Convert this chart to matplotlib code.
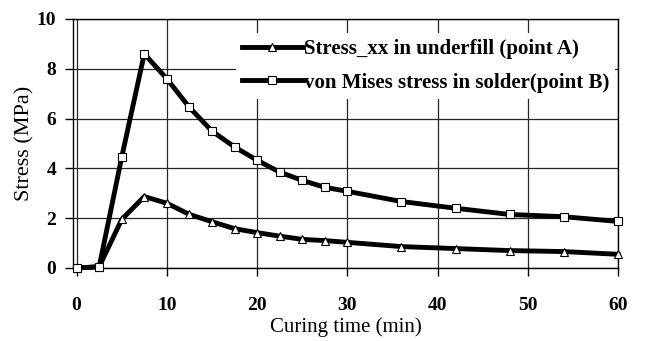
import numpy as np
import matplotlib
matplotlib.use("Agg")
import matplotlib.pyplot as plt

# curing time (min) and stresses (MPa)
time_a = [0, 2.5, 5, 7.5, 10, 12.5, 15, 17.5, 20, 22.5, 25, 27.5, 30, 36, 42, 48, 54, 60]
stress_a = [0.0, 0.05, 1.95, 2.87, 2.6, 2.15, 1.86, 1.58, 1.42, 1.28, 1.15, 1.1, 1.03, 0.86, 0.78, 0.7, 0.66, 0.55]
time_b = [0, 2.5, 5, 7.5, 10, 12.5, 15, 17.5, 20, 22.5, 25, 27.5, 30, 36, 42, 48, 54, 60]
stress_b = [0.0, 0.05, 4.45, 8.6, 7.6, 6.45, 5.5, 4.86, 4.33, 3.85, 3.52, 3.24, 3.08, 2.67, 2.4, 2.15, 2.06, 1.87]
labels = ["Stress_xx in underfill (point A)", "von Mises stress in solder(point B)"]
xticks = [0, 10, 20, 30, 40, 50, 60]
yticks = [0, 2, 4, 6, 8, 10]

plt.rcParams['font.family'] = ['Liberation Serif', 'DejaVu Serif']
plt.rcParams['font.weight'] = 'bold'

fig = plt.figure(figsize=(6.53, 3.41), dpi=100)
ax = fig.add_axes([73/653, 1 - 268/341, (618 - 73)/653, (268 - 19)/341])

ax.plot(time_a, stress_a, color='black', lw=3.5, marker='^', ms=6,
        mfc='white', mec='black', mew=0.8, label=labels[0], zorder=3, clip_on=False)
ax.plot(time_b, stress_b, color='black', lw=3.5, marker='s', ms=6,
        mfc='white', mec='black', mew=0.8, label=labels[1], zorder=3, clip_on=False)

ax.set_xlim(-0.4, 60)
ax.set_ylim(0, 10)
ax.set_xticks(xticks)
ax.set_yticks(yticks)
ax.grid(True, color='0.15', lw=0.9)
ax.set_axisbelow(True)
ax.tick_params(axis='x', direction='out', length=6, width=1, pad=15, labelsize=14)
ax.tick_params(axis='y', direction='out', length=6, width=1, pad=6, labelsize=14)
for s in ax.spines.values():
    s.set_linewidth(1)
ax.set_xlabel("Curing time (min)", fontsize=15, labelpad=2)
ax.set_ylabel("Stress (MPa)", fontsize=16, labelpad=2)

leg = ax.legend(loc='upper left', bbox_to_anchor=(236/653, 1 - 33/341),
                bbox_transform=fig.transFigure, frameon=True, fancybox=False,
                edgecolor='none', facecolor='white', framealpha=1,
                handlelength=2.9, handletextpad=0.05, labelspacing=0.65,
                borderpad=0.3, borderaxespad=0, fontsize=15)
leg.set_zorder(5)

fig.savefig("out.png", dpi=100)
